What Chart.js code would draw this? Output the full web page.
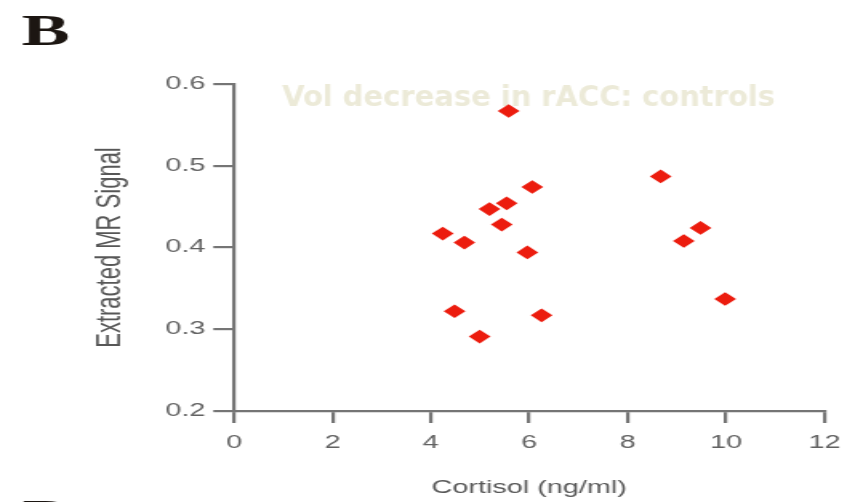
<!DOCTYPE html>
<html>
<head>
<meta charset="utf-8">
<script src="https://cdn.jsdelivr.net/npm/chart.js@4/dist/chart.umd.min.js"></script>
<style>
  html, body { margin: 0; padding: 0; background: #fff; overflow: hidden; }
  #wrap { width: 534px; height: 502px; transform: scale(1.6011, 1); transform-origin: 0 0; }
</style>
</head>
<body>
<div id="wrap"><canvas id="chartContainer" width="534" height="502"></canvas></div>
<script>
// the whole figure is drawn 534px wide and stretched to 855px
const STRETCH = 855 / 534;

const cortisol = [5.58, 6.06, 5.54, 5.19, 5.44, 4.24, 4.68, 5.96, 8.67, 9.48, 9.14, 9.98, 4.48, 6.25, 4.99];
const mrSignal = [0.567, 0.474, 0.454, 0.447, 0.428, 0.417, 0.406, 0.394, 0.487, 0.424, 0.408, 0.337, 0.322, 0.317, 0.291];

const xTicks = [0, 2, 4, 6, 8, 10, 12];
const yTicks = [0.2, 0.3, 0.4, 0.5, 0.6];

const panelLetters = ['B', 'D'];
const chartTitle = 'Vol decrease in rACC: controls';
const xTitle = 'Cortisol (ng/ml)';
const yTitle = 'Extracted MR Signal';

const axisColor = '#757575';
const labelColor = '#626262';

const textPlugin = {
  id: 'figureText',
  beforeDatasetsDraw(chart) {
    // faint overlay title, drawn unstretched
    const ctx = chart.ctx;
    ctx.save();
    ctx.scale(1 / STRETCH, 1);
    ctx.font = 'bold 29px "DejaVu Sans"';
    ctx.fillStyle = '#ecead8';
    ctx.textBaseline = 'alphabetic';
    ctx.textAlign = 'center';
    const w = ctx.measureText(chartTitle).width;
    const k = 493 / w;
    ctx.translate(528.5, 106);
    ctx.scale(k, 1);
    ctx.fillText(chartTitle, 0, 0);
    ctx.restore();
  },
  afterDraw(chart) {
    const ctx = chart.ctx;
    ctx.save();
    ctx.font = 'bold 45px "Liberation Serif"';
    ctx.fillStyle = '#1c1612';
    ctx.textBaseline = 'alphabetic';
    ctx.textAlign = 'left';
    ctx.fillText(panelLetters[0], 13.5, 45);
    ctx.fillText(panelLetters[1], 14, 530);
    ctx.restore();
  }
};

new Chart(document.getElementById('chartContainer'), {
  type: 'scatter',
  data: {
    datasets: [{
      data: cortisol.map((x, i) => ({ x: x, y: mrSignal[i] })),
      pointStyle: 'rectRot',
      pointRadius: 6.8,
      pointHoverRadius: 6.8,
      pointBorderWidth: 0,
      backgroundColor: '#ec1c0e',
      borderColor: '#ec1c0e',
    }]
  },
  options: {
    responsive: false,
    devicePixelRatio: 1,
    animation: false,
    events: [],
    layout: {
      padding: { top: 84, right: 16.2, bottom: 0, left: 0 }
    },
    plugins: {
      legend: { display: false },
      tooltip: { enabled: false },
    },
    scales: {
      x: {
        type: 'linear',
        min: 0,
        max: 12,
        afterFit: (scale) => { scale.height = 91; },
        afterBuildTicks: (scale) => { scale.ticks = xTicks.map(v => ({ value: v })); },
        grid: {
          drawOnChartArea: false,
          drawTicks: true,
          tickLength: 12,
          color: axisColor,
          lineWidth: 2.2,
        },
        border: { color: axisColor, width: 2.2 },
        ticks: {
          padding: 9,
          color: labelColor,
          font: { family: '"Liberation Sans"', size: 18 },
          maxRotation: 0,
        },
        title: {
          display: true,
          text: xTitle,
          color: '#575757',
          font: { family: '"Liberation Sans"', size: 18 },
          padding: { top: 0, bottom: 3 },
        }
      },
      y: {
        type: 'linear',
        min: 0.2,
        max: 0.6,
        afterFit: (scale) => { scale.width = 146.2; },
        afterBuildTicks: (scale) => { scale.ticks = yTicks.map(v => ({ value: v })); },
        grid: {
          drawOnChartArea: false,
          drawTicks: true,
          tickLength: 13,
          color: axisColor,
          lineWidth: 2.2,
        },
        border: { color: axisColor, width: 2.2 },
        ticks: {
          padding: 5,
          color: labelColor,
          font: { family: '"Liberation Sans"', size: 18 },
          callback: (v) => v.toFixed(1),
        },
        title: {
          display: true,
          text: yTitle,
          color: '#575757',
          font: { family: '"Liberation Sans"', size: 22 },
          padding: { top: 55.5, bottom: 0 },
        }
      }
    }
  },
  plugins: [textPlugin]
});
</script>
</body>
</html>
